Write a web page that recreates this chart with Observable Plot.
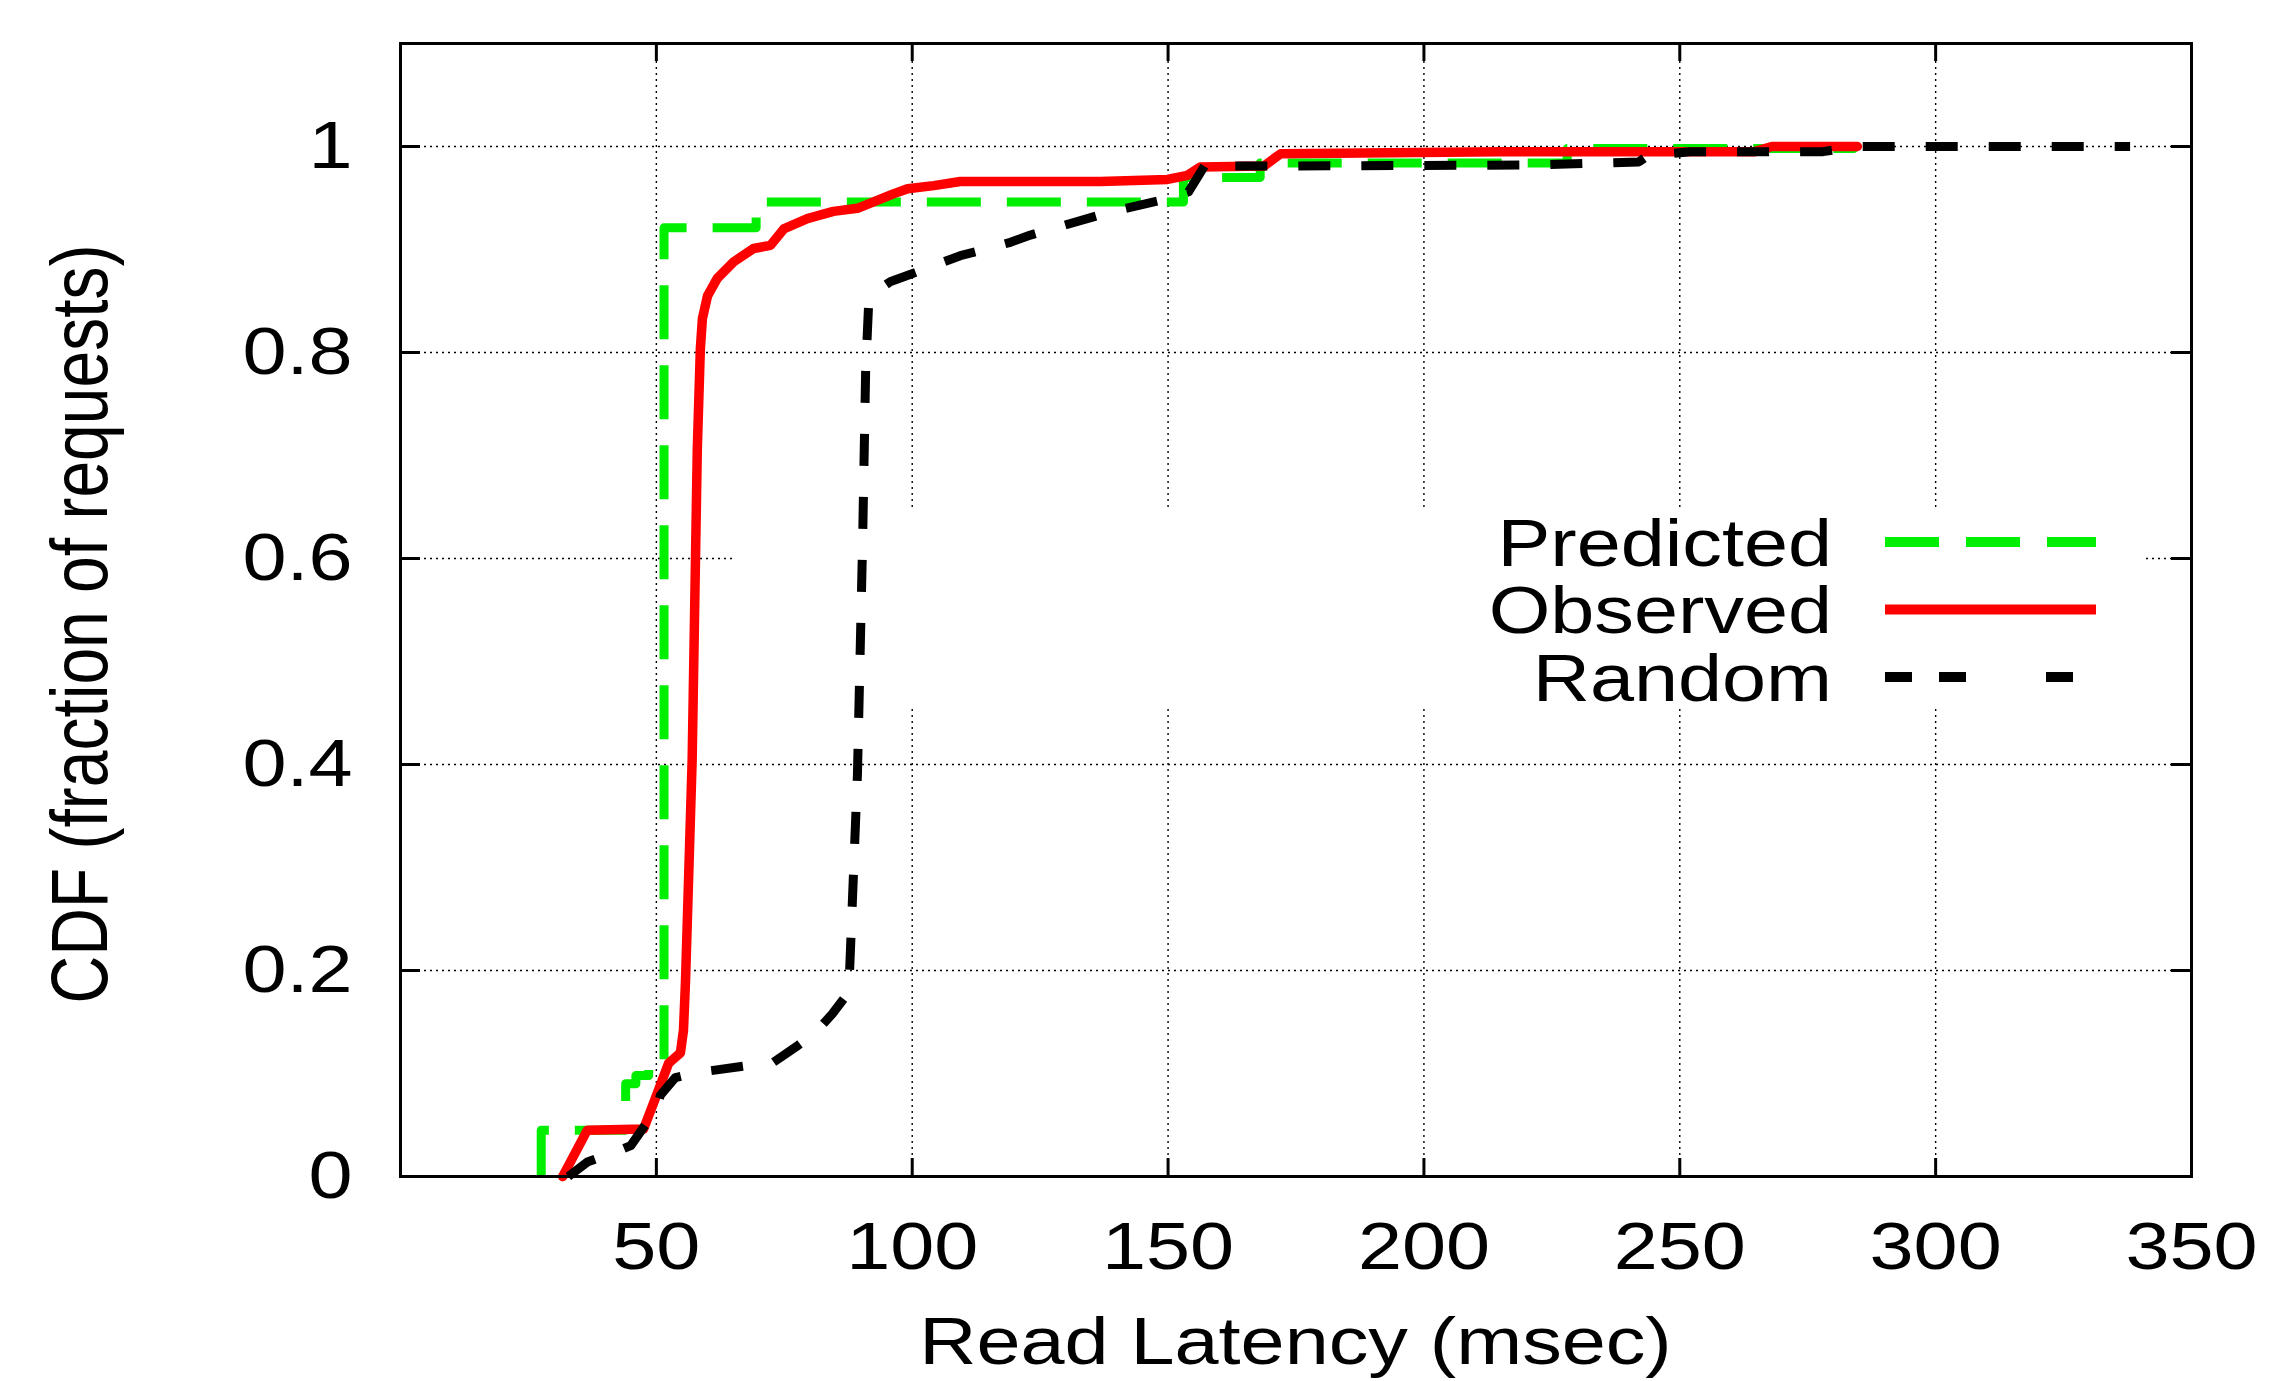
<!DOCTYPE html>
<html>
<head>
<meta charset="utf-8">
<script src="https://cdn.jsdelivr.net/npm/d3@7"></script>
<script src="https://cdn.jsdelivr.net/npm/@observablehq/plot@0.6"></script>
<style>
  html, body { margin: 0; padding: 0; background: #fff; }
  #chart svg { display: block; }
</style>
</head>
<body>
<div id="chart"></div>
<script>
// ---------------- data ----------------
const seriesNames  = ["Predicted", "Observed", "Random"];
const seriesColors = ["#00ee00", "#ff0000", "#000000"];

const predictedX = [27.5, 27.5, 44, 46, 48.5, 51.5, 69.5, 153, 168, 228, 284];
const predictedY = [0, 0.045, 0.09, 0.098, 0.105, 0.921, 0.946, 0.970, 0.984, 0.998, 1.0];

const observedX = [31.7, 36.5, 47.5, 50.2, 52.4, 54.7, 55.3, 55.7, 57.0, 58.0, 58.6, 59.0, 60.0, 61.9, 65.1, 69.0, 72.3, 74.9, 79.5, 84.6, 89.3, 96.3, 99.1, 104.2, 109.4, 136.8, 149.9, 153.8, 156.3, 168.7, 172.0, 215, 264.6, 268, 284.7];
const observedY = [0, 0.045, 0.046, 0.081, 0.11, 0.12, 0.142, 0.19, 0.405, 0.706, 0.804, 0.833, 0.855, 0.872, 0.888, 0.901, 0.904, 0.920, 0.930, 0.937, 0.940, 0.954, 0.959, 0.962, 0.966, 0.966, 0.968, 0.972, 0.980, 0.981, 0.993, 0.995, 0.995, 1.0, 1.0];

const randomX = [32.8, 36.5, 41.0, 45, 49.8, 50.8, 53.7, 58.0, 72.9, 77.6, 81.5, 84.4, 87.6, 89.3, 90.3, 90.9, 91.5, 93.2, 95.8, 99.7, 109.4, 113.3, 119.2, 123.1, 139.1, 149.7, 154, 157.1, 167, 220.6, 242, 243.7, 252, 278, 280.5, 284.7, 338];
const randomY = [0, 0.014, 0.022, 0.030, 0.064, 0.079, 0.096, 0.101, 0.111, 0.127, 0.142, 0.158, 0.179, 0.391, 0.615, 0.782, 0.849, 0.860, 0.869, 0.876, 0.894, 0.899, 0.907, 0.914, 0.937, 0.949, 0.956, 0.981, 0.981, 0.982, 0.985, 0.991, 0.995, 0.995, 0.997, 1.0, 1.0];

const xTicks = [50, 100, 150, 200, 250, 300, 350];
const yTicks = [0, 0.2, 0.4, 0.6, 0.8, 1];
const xTitle = "Read Latency (msec)";
const yTitle = "CDF (fraction of requests)";

// ---------------- layout ----------------
const W = 2274, H = 1381;
const M = {top: 43, right: 83, bottom: 205, left: 400};
const innerW = W - M.left - M.right, innerH = H - M.top - M.bottom;
const FONT = '"Liberation Sans", Arial, Helvetica, sans-serif';
const FS = 66, STRETCH = 1.2, TICK = 18;
const seriesDash = ["54,26", null, "32,31"];
const legendDash = ["54,27", null, "27,27,27,80"];
const keyBox = {left: 733, top: 509, right: 2144, bottom: 708};
const legend = {textRight: 1832, x1: 1885, x2: 2096, y0: 542, gap: 67.5};

const rows = (xs, ys, name) => xs.map((x, i) => ({x, y: ys[i], series: name}));
const predicted = rows(predictedX, predictedY, seriesNames[0]);
const observed  = rows(observedX, observedY, seriesNames[1]);
const random    = rows(randomX, randomY, seriesNames[2]);

const gridStyle = {stroke: "#000", strokeOpacity: 1, strokeWidth: 1.4, strokeDasharray: "2,4"};
const tickStyle = {stroke: "#000", strokeWidth: 3};

const plot = Plot.plot({
  width: W, height: H,
  marginTop: M.top, marginRight: M.right, marginBottom: M.bottom, marginLeft: M.left,
  x: {domain: [0, 350]},
  y: {domain: [0, 1.1]},
  style: {fontFamily: FONT, fontSize: FS + "px", background: "#fff", color: "#000"},
  marks: [
    Plot.gridX(xTicks.filter(t => t > 0 && t < 350), gridStyle),
    Plot.gridY(yTicks.filter(t => t > 0), gridStyle),
    Plot.line(predicted, {x: "x", y: "y", stroke: seriesColors[0], strokeWidth: 9, strokeDasharray: seriesDash[0], curve: "step-after", strokeLinecap: "butt"}),
    Plot.line(observed,  {x: "x", y: "y", stroke: seriesColors[1], strokeWidth: 9.5, curve: "linear", strokeLinejoin: "round"}),
    Plot.line(random,    {x: "x", y: "y", stroke: seriesColors[2], strokeWidth: 9, strokeDasharray: seriesDash[2], curve: "linear", strokeLinecap: "butt"}),
    Plot.tickX(xTicks, {x: d => d, insetTop: innerH - TICK, ...tickStyle}),
    Plot.tickX(xTicks, {x: d => d, insetBottom: innerH - TICK, ...tickStyle}),
    Plot.tickY(yTicks, {y: d => d, insetRight: innerW - TICK - 2, ...tickStyle}),
    Plot.tickY(yTicks, {y: d => d, insetLeft: innerW - TICK - 2, ...tickStyle}),
    Plot.frame({stroke: "#000", strokeWidth: 3}),
    Plot.axisX(xTicks, {anchor: "bottom", tickSize: 0, tickPadding: 46, tickFormat: d => String(d), fontSize: FS, label: null}),
    Plot.axisY(yTicks, {anchor: "left", tickSize: 0, tickPadding: 48, tickFormat: d => String(d), fontSize: FS, label: null})
  ]
});

document.getElementById("chart").appendChild(plot);
const svg = d3.select(plot.tagName.toLowerCase() === "svg" ? plot : plot.querySelector("svg"));

// stretch tick labels horizontally like the reference's typeface
svg.selectAll("text").each(function () {
  const t = d3.select(this);
  const x = +(t.attr("x") || 0);
  const tr = t.attr("transform") || "";
  t.attr("transform", `${tr} translate(${x},0) scale(${STRETCH},1) translate(${-x},0)`);
});

// opaque key backdrop (hides grid, sits under the curves)
const firstLine = svg.node().querySelector('g[aria-label="line"]');
const backdrop = document.createElementNS("http://www.w3.org/2000/svg", "rect");
backdrop.setAttribute("x", keyBox.left);
backdrop.setAttribute("y", keyBox.top);
backdrop.setAttribute("width", keyBox.right - keyBox.left);
backdrop.setAttribute("height", keyBox.bottom - keyBox.top);
backdrop.setAttribute("fill", "#fff");
firstLine.parentNode.insertBefore(backdrop, firstLine);

// legend
const lg = svg.append("g").attr("font-family", FONT).attr("font-size", FS);
seriesNames.forEach((name, i) => {
  const y = legend.y0 + i * legend.gap;
  lg.append("text")
    .attr("text-anchor", "end")
    .attr("dy", "0.36em")
    .attr("transform", `translate(${legend.textRight},${y}) scale(${STRETCH},1)`)
    .attr("fill", "#000")
    .text(name);
  const ln = lg.append("line")
    .attr("x1", legend.x1).attr("x2", legend.x2)
    .attr("y1", y).attr("y2", y)
    .attr("stroke", seriesColors[i]).attr("stroke-width", 10);
  if (legendDash[i]) ln.attr("stroke-dasharray", legendDash[i]);
});

// axis titles
svg.append("text")
  .attr("font-family", FONT).attr("font-size", FS).attr("fill", "#000")
  .attr("text-anchor", "middle")
  .attr("transform", `translate(${M.left + innerW / 2},1364) scale(${STRETCH},1)`)
  .text(xTitle);
svg.append("text")
  .attr("font-family", FONT).attr("font-size", FS).attr("fill", "#000")
  .attr("text-anchor", "middle")
  .attr("transform", `translate(107,624) rotate(-90) scale(1,${STRETCH})`)
  .text(yTitle);
</script>
</body>
</html>
